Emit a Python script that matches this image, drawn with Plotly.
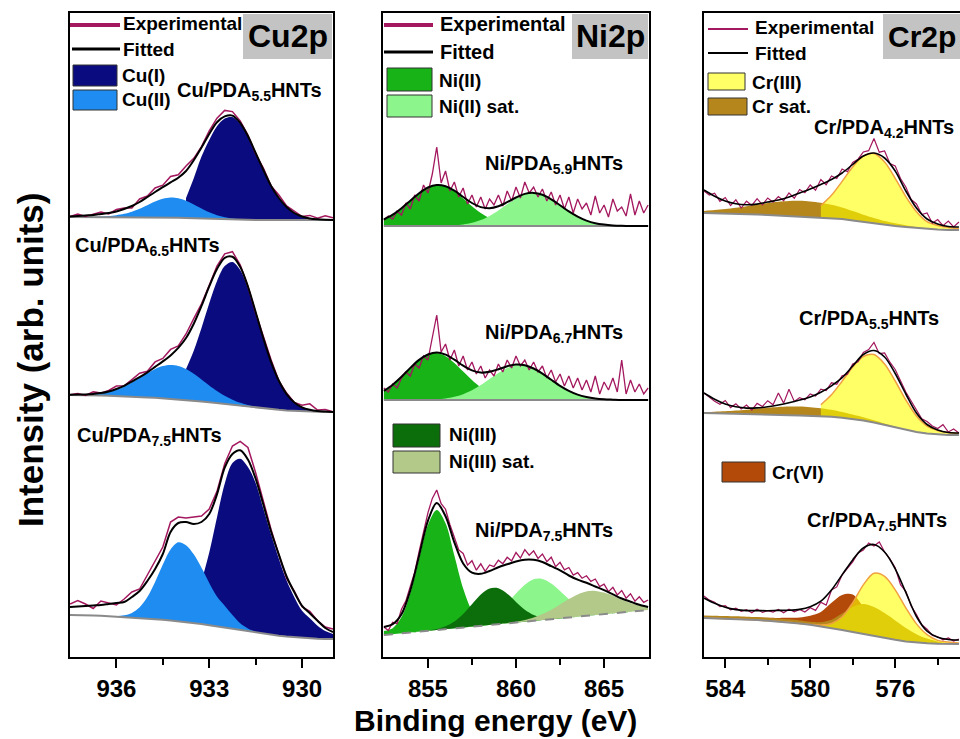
import plotly.graph_objects as go

W, H = 960, 739
FONT = "Arial, Liberation Sans, sans-serif"

# ---------------- energy grids (eV) ----------------
E_CU = [round(937.5 - 0.25 * i, 2) for i in range(35)]
E_NI = [round(852.5 + 0.5 * i, 2) for i in range(31)]
E_NI_EXP = [round(852.5 + 0.25 * i, 2) for i in range(61)]
E_CR = [round(585.0 - 0.5 * i, 2) for i in range(25)]
E_CR_EXP = [round(585.0 - 0.25 * i, 2) for i in range(49)]

# ---------------- Cu 2p ----------------
# stack offsets (arb. units); backgrounds relative to offset; components / fit = height above background
CU1_OFF = 437
CU1_BG = [3, 3, 3, 3, 3, 3, 3, 3, 3, 3, 3, 3, 2.8, 2.6, 2.3, 2, 1.7, 1.4, 1.1, 0.8, 0.6, 0.4, 0.2,
          0, 0, 0, 0, 0, 0, 0, 0, 0, 0, 0, 0]
CU1_CUI = [None] * 15 + [20, 40, 62, 79, 93, 101, 102.5, 96, 83, 67, 49, 34, 21.6, 12.7, 6.9, 3.5, 1.6, 0.7, 0.3, 0.1]
CU1_CUII = [0, 0, 0, 0.2, 0.5, 1.0, 1.8, 3.2, 5.3, 8.3, 11.8, 15.5, 18.5, 19.9, 19.5, 17.3, 13.9, 10.2, 6.7, 4.0,
            2.2, 1.1, 0.5, 0.2, 0, 0, 0, 0, 0, 0, 0, 0, 0, 0, 0]
CU1_FIT = [0.5, 1, 1.5, 2, 3, 4, 5.5, 8, 11, 15, 20, 25, 30, 35, 40, 47, 58, 71, 85, 97,
           103, 104, 97, 84, 67, 50, 34, 22, 13, 7, 3.5, 1.6, 0.7, 0.3, 0.1]
CU1_EXP = [0.5, 3, 0.5, 3, 5, 3, 7.5, 9, 9, 18, 21, 29, 32, 41, 43, 52, 60, 72, 88, 101,
           109, 108, 99, 85, 66, 52, 34, 25, 14, 9, 3.5, 4.6, 1.7, 4.3, 2.1]

CU2_OFF = 245
CU2_BG = [17, 17, 16.8, 16.6, 16.4, 16.2, 16, 15.7, 15.4, 15, 14.6, 14.2, 13.7, 13.2, 12.6, 12, 11.3, 10.5, 9.7, 8.8,
          7.9, 7, 6, 5.1, 4.3, 3.5, 2.8, 2.2, 1.6, 1.1, 0.7, 0.4, 0.2, 0.1, 0]
CU2_CUI = [None] * 15 + [31, 50, 73.5, 99, 122, 138, 143, 136, 118.6, 94.8, 69.6, 46.9, 28.9, 16.3, 8.5, 4.0, 1.8, 0.7, 0.3, 0.1]
CU2_CUII = [0.1, 0.3, 0.6, 1.3, 2.3, 4.0, 6.5, 9.9, 14.2, 19.2, 24.3, 28.9, 32.3, 33.9, 33.5, 31, 27, 22.1, 16.9, 12.2,
            8.3, 5.3, 3.2, 1.8, 0.9, 0.5, 0.2, 0.1, 0, 0, 0, 0, 0, 0, 0]
CU2_FIT = [0.3, 0.5, 0.8, 1.5, 2.5, 4.3, 7, 10.5, 15, 19.8, 25.1, 30.9, 36.9, 43.4, 51.5, 62, 77, 95.6, 115.9, 134.2,
           146.3, 148.3, 139.2, 120.4, 95.7, 70.1, 47.1, 29, 16.3, 8.5, 4, 1.8, 0.7, 0.3, 0.1]
CU2_EXP = [0.3, 1.5, -0.2, 3.5, 2.5, 5.3, 10, 10.5, 17, 23.8, 26.1, 35.9, 39.9, 49.4, 53.5, 66, 82, 97.6, 116.9, 137.2,
           150.3, 153.3, 141.2, 120.4, 94.7, 71.1, 49.1, 29, 17.3, 8.5, 6, 7.8, 1.7, 2.3, 0.1]

CU3_OFF = 18
CU3_BG = [24, 24, 23.8, 23.5, 23.2, 22.8, 22.4, 22, 21.5, 21, 20.5, 20, 19.3, 18.6, 17.8, 17, 16, 15, 13.8, 12.6,
          11.3, 10, 8.7, 7.5, 6.3, 5.2, 4.2, 3.3, 2.5, 1.8, 1.2, 0.7, 0.3, 0, 0]
CU3_CUI = [None] * 17 + [42.5, 72.6, 109, 144, 166, 171.5, 164.4, 149.7, 125, 100, 77, 56, 40, 27, 20, 13, 8, 5]
CU3_CUII = [0, 0, 0, 0, 0, 0.2, 0.5, 1.7, 4.6, 10.7, 21.4, 37, 55.2, 71, 79, 76.8, 68.7, 56.3, 42.3, 30,
            22, 14, 7, 3, 1, 0.3, 0, 0, 0, 0, 0, 0, 0, 0, 0]
CU3_FIT = [8, 8.5, 9.2, 10, 10.8, 12.2, 13.6, 15, 20.5, 27, 37.5, 50, 65.7, 88.4, 98.2, 100, 99, 102, 111.2, 132,
           160, 175, 180, 172, 154, 129, 103, 81, 60, 45, 32, 25, 18, 11, 7]
CU3_EXP = [11, 14.5, 11.2, 7, 14.8, 13.2, 11.6, 18, 25.5, 29, 43.5, 58, 72.7, 98.4, 104.2, 104, 106, 108, 116.2, 135,
           164, 183, 189, 184, 160, 132, 105, 81, 58, 46, 31, 27, 18, 12, 10]

# ---------------- Ni 2p ----------------
NI1_OFF = 431
NI1_BG = [0] * 31
NI1_NIII = [6.5, 11.3, 17.8, 25.3, 32.8, 38.5, 41, 39.6, 34.6, 27.5, 19.8, 12.9, 7.7, 4.1, 2, 0.9, 0.4, 0.1] + [0] * 13
NI1_NIIS = [0] * 7 + [0.2, 0.7, 1.5, 3.2, 6, 10.1, 15.6, 21.8, 27.6, 31.7, 33, 31.2, 26.7, 20.8, 14.6, 9.4, 5.4, 2.8,
                      1.4, 0.6, 0.2] + [0] * 3
NI1_FIT = [6.5, 11.3, 17.8, 25.3, 32.8, 38.5, 41, 39.8, 35.3, 29, 23, 18.9, 17.8, 19.7, 23.8, 28.5, 32.1, 33.1, 31.2,
           26.7, 20.8, 14.6, 9.4, 5.4, 2.8, 1.4, 0.6, 0.2, 0, 0, 0]
NI1_EXP = [6, 10, 7, 15, 11, 23, 17, 31, 25, 41, 33, 52, 79, 43, 55, 35, 44, 29, 38, 22,
           31, 19, 29, 17, 27, 21, 31, 20, 35, 25, 39, 28, 44, 33, 39, 29, 37, 25, 34, 21,
           31, 17, 29, 13, 27, 17, 23, 11, 30, 13, 21, 9, 27, 15, 19, 10, 32, 11, 25, 13, 21]

NI2_OFF = 257
NI2_BG = [0] * 31
NI2_NIII = [9.1, 15.3, 23.2, 32.1, 40.1, 45.5, 46.9, 43.8, 37.1, 28.5, 19.9, 12.5, 7.2, 3.7, 1.8, 0.8, 0.3] + [0] * 14
NI2_NIIS = [0] * 6 + [0.7, 1.6, 3.2, 5.8, 9.7, 14.9, 21, 27, 32, 34.7, 34.5, 31.5, 26.4, 20.2, 14.2, 9.2, 5.4, 3, 1.5,
                      0.7, 0.3] + [0] * 4
NI2_FIT = [9.1, 15.3, 23.2, 32.1, 40.1, 45.5, 47.6, 45.4, 40.3, 34.3, 29.6, 27.4, 28.2, 30.7, 33.8, 35.5, 34.8, 31.5,
           26.4, 20.2, 14.2, 9.2, 5.4, 3, 1.5, 0.7, 0.3, 0, 0, 0, 0]
NI2_EXP = [12, 8, 16, 12, 22, 28, 24, 36, 32, 44, 40, 62, 85, 48, 56, 40, 50, 34, 44, 30,
           38, 26, 34, 22, 30, 24, 36, 28, 40, 32, 44, 34, 40, 30, 38, 28, 34, 22, 30, 18,
           26, 14, 24, 12, 22, 10, 20, 8, 24, 6, 18, 10, 22, 8, 40, 6, 20, 8, 16, 6, 12]

NI3_OFF = 22
NI3_BG = [0, 0.8, 1.7, 2.5, 3.3, 4.2, 5, 5.8, 6.7, 7.5, 8.3, 9.2, 10, 10.8, 11.7, 12.5, 13.3, 14.2, 15, 15.8,
          16.7, 17.5, 18.3, 19.2, 20, 20.8, 21.7, 22.5, 23.3, 24.2, 25]
NI3_NIII = [4, 6, 16.2, 39, 72.8, 105.9, 120, 105.9, 72.8, 39, 16.2, 5.3, 1.3, 0.2] + [0] * 17
NI3_NIIS = [0] * 9 + [0.5, 1.3, 3.1, 6.5, 12.2, 20.1, 29.1, 37, 41.6, 41, 35.7, 27.3, 18.4, 10.9, 5.7, 2.6, 1.1,
                      0.4] + [0] * 4
NI3_NIIII = [0, 0, 0, 0, 0, 0.3, 1, 3, 6.9, 13.6, 22.4, 31.2, 36.5, 35.9, 29.6, 20.6, 12, 5.9, 2.4, 0.8, 0.2] + [0] * 10
NI3_NIIIS = [0] * 14 + [0.3, 0.8, 1.7, 3.3, 5.9, 9.5, 13.9, 18.5, 22.3, 24.3, 24.1, 21.6, 17.6, 13, 8.7, 5.3, 2.9]
NI3_FIT = [8, 10, 19, 42, 76, 110, 127, 113, 86, 64, 54, 52, 54, 57, 59, 61, 62, 61, 58, 53,
           48, 42, 37, 33, 28.5, 24, 19, 14, 10, 6, 3]
NI3_EXP = [8, 4.4, 12.8, 11.3, 25.7, 34.1, 48.5, 62.9, 83.3, 101.8, 122.2, 136.6, 145, 131.4, 125.8, 110.3, 98.7,
           85.1, 81.5, 69.9, 74.3, 64.8, 71.2, 63.6, 70, 68.4, 74.8, 71.3, 77.7, 74.1, 82.5, 76.9, 85.3, 79.8,
           84.2, 76.6, 81, 73.4, 77.8, 68.3, 72.7, 65.1, 67.5, 59.9, 62.3, 56.8, 59.2, 53.6, 56, 48.4, 50.8,
           43.3, 47.7, 40.1, 44.5, 36.9, 41.3, 33.8, 38.2, 32.6, 35]

# ---------------- Cr 2p ----------------
CR1_OFF = 427
CR1_BG = [17, 16.8, 16.5, 16.2, 15.8, 15.4, 15, 14.5, 14, 13.5, 13, 12.5, 12, 11, 9.5, 8, 6.5, 5, 4, 3,
          2, 1, 0.5, 0, 0]
CR1_SAT = [2, 3.1, 4.4, 6.1, 8, 10.1, 12.1, 13.8, 15.1, 15.7, 15.5, 14.7, 13.2, 11.4, 9.4, 7.3, 5.5, 3.9, 2.7, 1.7,
           1.1, 0.6, 0.3, 0.2, 0.1]
CR1_CRIII = [None] * 11 + [11.9, 22.7, 37.6, 53.6, 65.9, 70, 63, 47.7, 30.4, 16.3, 7.3, 4, 2.5, 1.5]
CR1_FIT = [23, 17, 12.5, 10, 9.5, 10.5, 13, 15.5, 19, 23.5, 28, 33, 38.5, 46, 56, 66, 70.5, 67, 55, 36,
           20, 10, 5.5, 3.5, 3]
CR1_EXP = [39, 34.9, 36.8, 28.7, 32.5, 24.4, 30.2, 22, 28.8, 24.6, 31.4, 25.2, 32, 27.8, 33.5, 29.3, 37, 31.8,
           40.5, 37.3, 45, 39.8, 50.5, 45.3, 54, 51.5, 61, 58.3, 67.5, 70.8, 78, 79.3, 91.5, 77.8, 79, 66.5,
           64, 51.5, 43, 30.5, 26, 15.5, 17, 6.8, 10.5, 4.3, 9, 3, 8]

CR2_OFF = 222
CR2_BG = [22, 21.8, 21.5, 21.2, 20.9, 20.6, 20.3, 20, 19.7, 19.4, 19.1, 18.8, 18.2, 17.3, 16, 14.5, 12.5, 10, 7.5, 5,
          3, 1.5, 0.5, 0, 0]
CR2_SAT = [0.9, 1.5, 2.2, 3.2, 4.4, 5.7, 7, 8, 8.7, 9, 8.7, 8, 7, 5.7, 4.4, 3.2, 2.2, 1.5, 0.9, 0.5,
           0.3, 0.1, 0, 0, 0]
CR2_CRIII = [None] * 11 + [11.5, 22, 36.5, 52, 64, 68, 61, 46.5, 30, 16, 7.5, 4, 2.5, 1.5]
CR2_FIT = [20, 14, 9.5, 7, 6, 6.5, 8, 10, 12.5, 15.5, 19, 24, 31, 40, 53, 66, 72, 68, 54, 36,
           19, 9, 4.5, 2.5, 2]
CR2_EXP = [42, 37.9, 33.8, 30.7, 34.5, 27.4, 31.2, 26.1, 29.9, 24.8, 31.6, 28.5, 34.3, 30.2, 42, 31.9, 45.7, 33.6,
           37.4, 35.3, 41.1, 39, 45.8, 44.5, 52.2, 50.8, 59.3, 60.7, 71, 73.3, 82.5, 85.5, 92.5, 81.3, 82, 72.8,
           65.5, 54.3, 43, 34, 25, 16.3, 13.5, 9, 6.5, 10.3, 3, 6, 2]

CR3_OFF = 13
CR3_BG = [26, 25.7, 25.3, 24.9, 24.4, 23.9, 23.3, 22.6, 21.7, 20.6, 19.3, 17.8, 16, 14.1, 12.1, 10, 8, 6, 4.2, 2.6,
          1.5, 0.8, 0.3, 0, 0]
CR3_CRVI = [1, 1.1, 1.3, 1.6, 2, 2.5, 3, 3.5, 4.5, 6, 9, 14.3, 25.3, 35, 37.5, 27, 13, 5, 1.5, 0.4,
            0.1, 0, 0, 0, 0]
CR3_SAT = [2.5, 2.6, 2.7, 2.8, 2.9, 3, 3, 3, 3, 3, 3, 4, 8.3, 16.4, 25, 29.9, 29, 25, 19.4, 13.4,
           8.3, 4.6, 2.3, 1, 0.4]
CR3_CRIII = [0] * 10 + [0.2, 1.2, 4.5, 13.1, 29.1, 49.1, 62.7, 61.7, 50, 33.5, 18.6, 8.6, 3.3, 2, 1]
CR3_FIT = [20, 15, 11.5, 9.5, 9, 9.5, 10, 11, 12, 14, 18, 25, 38, 55, 72, 86, 91.5, 86, 71, 49,
           26, 12, 6.5, 4.5, 4]
CR3_EXP = [48, 43.9, 41.7, 37.5, 38.3, 34.1, 35.9, 32.7, 34.4, 31.2, 34.9, 31.6, 33.3, 32, 34.6, 31.2, 34.7, 32.2,
           34.6, 32, 36.3, 33.6, 41.8, 38.9, 54, 57.1, 69.1, 75.1, 82.1, 91.1, 94, 101, 98, 102, 92, 85.1,
           76.2, 59.4, 52.6, 38.1, 29.5, 19.2, 14.8, 8.6, 7.3, 4.2, 6, 3, 5]

# tick labels
CU_TICKS = [936, 933, 930]
CU_MINOR = [934.5, 931.5]
NI_TICKS = [855, 860, 865]
NI_MINOR = [857.5, 862.5]
CR_TICKS = [584, 580, 576]
CR_MINOR = [582, 578, 574]

# ---------------- colours ----------------
MAROON = "#a3185e"
GRAY = "#8a8a8a"
NAVY = "#0b0b80"
LBLUE = "#1e8cf0"
GREEN = "#17b317"
LGREEN = "#8cf58c"
DGREEN = "#0b6e0b"
OLIVE = "#b3c98a"
YEL = "rgba(255,255,0,0.6)"
YEL_BOX = "#ffff66"
ORANGE = "#f0a040"
BROWN = "#b5861c"
CRVI = "#b44a0a"

fig = go.Figure()


def spectrum(ax, E, off, bg, comps, fit, Ex, ex, ex_on_bg, base_dash="solid", exp_w=1.5, fit_w=2.0):
    xa, ya = ("x", "y") if ax == 1 else (f"x{ax}", f"y{ax}")
    assert len(bg) == len(E) and len(fit) == len(E) and len(ex) == len(Ex)
    base = [off + b for b in bg]
    for h, fillc, linec, lw in comps:
        assert len(h) == len(E)
        keep = [i for i, v in enumerate(h) if v is not None]
        xs = [E[i] for i in keep]
        fig.add_trace(go.Scatter(x=xs, y=[base[i] for i in keep], mode="lines",
                                 line=dict(width=0, color="rgba(0,0,0,0)"),
                                 xaxis=xa, yaxis=ya, hoverinfo="skip", showlegend=False))
        fig.add_trace(go.Scatter(x=xs, y=[base[i] + h[i] for i in keep], mode="lines", fill="tonexty",
                                 fillcolor=fillc,
                                 line=dict(width=lw, color=linec, shape="spline", smoothing=0.9),
                                 xaxis=xa, yaxis=ya, hoverinfo="skip", showlegend=False))
    fig.add_trace(go.Scatter(x=E, y=base, mode="lines", line=dict(color=GRAY, width=2, dash=base_dash),
                             xaxis=xa, yaxis=ya, hoverinfo="skip", showlegend=False))
    if ex_on_bg:
        ey = [base[i] + ex[i] for i in range(len(ex))]
    else:
        ey = [off + v for v in ex]
    fig.add_trace(go.Scatter(x=Ex, y=ey, mode="lines", line=dict(color=MAROON, width=exp_w),
                             xaxis=xa, yaxis=ya, hoverinfo="skip", showlegend=False))
    fig.add_trace(go.Scatter(x=E, y=[base[i] + fit[i] for i in range(len(E))], mode="lines",
                             line=dict(color="black", width=fit_w, shape="spline", smoothing=0.9),
                             xaxis=xa, yaxis=ya, hoverinfo="skip", showlegend=False))


# Cu (Cu(I) first, Cu(II) drawn over it)
spectrum(1, E_CU, CU1_OFF, CU1_BG, [(CU1_CUI, NAVY, NAVY, 0), (CU1_CUII, LBLUE, LBLUE, 0)], CU1_FIT, E_CU, CU1_EXP, True)
spectrum(1, E_CU, CU2_OFF, CU2_BG, [(CU2_CUI, NAVY, NAVY, 0), (CU2_CUII, LBLUE, LBLUE, 0)], CU2_FIT, E_CU, CU2_EXP, True)
spectrum(1, E_CU, CU3_OFF, CU3_BG, [(CU3_CUI, NAVY, NAVY, 0), (CU3_CUII, LBLUE, LBLUE, 0)], CU3_FIT, E_CU, CU3_EXP, True)

# Ni
spectrum(2, E_NI, NI1_OFF, NI1_BG, [(NI1_NIII, GREEN, GREEN, 0), (NI1_NIIS, LGREEN, LGREEN, 0)], NI1_FIT,
         E_NI_EXP, NI1_EXP, False, exp_w=1.3)
spectrum(2, E_NI, NI2_OFF, NI2_BG, [(NI2_NIII, GREEN, GREEN, 0), (NI2_NIIS, LGREEN, LGREEN, 0)], NI2_FIT,
         E_NI_EXP, NI2_EXP, False, exp_w=1.3)
spectrum(2, E_NI, NI3_OFF, NI3_BG, [(NI3_NIII, GREEN, GREEN, 0), (NI3_NIIS, LGREEN, LGREEN, 0),
                                    (NI3_NIIII, DGREEN, DGREEN, 0), (NI3_NIIIS, OLIVE, OLIVE, 0)], NI3_FIT,
         E_NI_EXP, NI3_EXP, False, base_dash="dash", exp_w=1.3)

# Cr
spectrum(3, E_CR, CR1_OFF, CR1_BG, [(CR1_SAT, BROWN, BROWN, 0), (CR1_CRIII, YEL, ORANGE, 1.5)], CR1_FIT,
         E_CR_EXP, CR1_EXP, False, exp_w=1.2, fit_w=1.6)
spectrum(3, E_CR, CR2_OFF, CR2_BG, [(CR2_SAT, BROWN, BROWN, 0), (CR2_CRIII, YEL, ORANGE, 1.5)], CR2_FIT,
         E_CR_EXP, CR2_EXP, False, exp_w=1.2, fit_w=1.6)
spectrum(3, E_CR, CR3_OFF, CR3_BG, [(CR3_CRVI, CRVI, CRVI, 0), (CR3_SAT, BROWN, BROWN, 0),
                                    (CR3_CRIII, YEL, ORANGE, 1.5)], CR3_FIT,
         E_CR_EXP, CR3_EXP, False, exp_w=1.2, fit_w=1.6)

# ---------------- axes ----------------
YDOM = [1 - 657 / H, 1 - 13 / H]
tickfont = dict(family=FONT, size=24, color="black", weight="bold")


def xax(dom, rng, ticks, minor):
    return dict(domain=dom, range=rng, showline=True, linewidth=2, linecolor="black", mirror=True,
                ticks="outside", ticklen=9, tickwidth=2, tickcolor="black", tickmode="array",
                tickvals=ticks, ticktext=[str(t) for t in ticks], tickfont=tickfont,
                minor=dict(tickmode="array", tickvals=minor, ticks="outside", ticklen=6, tickwidth=2,
                           tickcolor="black"),
                showgrid=False, zeroline=False)


def yax(anchor, mirror):
    return dict(domain=YDOM, range=[0, 644], showline=True, linewidth=2, linecolor="black", mirror=mirror,
                ticks="", showticklabels=False, showgrid=False, zeroline=False, anchor=anchor)


layout = dict(
    width=W, height=H, margin=dict(l=0, r=0, t=0, b=0),
    plot_bgcolor="white", paper_bgcolor="white", showlegend=False,
    xaxis=dict(**xax([70 / W, 333 / W], [937.5, 929.0], CU_TICKS, CU_MINOR), anchor="y"),
    xaxis2=dict(**xax([383 / W, 649 / W], [852.45, 867.55], NI_TICKS, NI_MINOR), anchor="y2"),
    xaxis3=dict(**xax([704 / W, 1.0], [585.0, 572.95], CR_TICKS, CR_MINOR), anchor="y3"),
    yaxis=yax("x", True),
    yaxis2=yax("x2", True),
    yaxis3=yax("x3", False),
)
fig.update_layout(**layout)


# ---------------- legends, labels, titles (pixel placement) ----------------
def X(px):
    return px / W


def Y(py):
    return 1 - py / H


def txt(s, px, py, size, anchor="left", angle=0):
    return dict(text=s, x=X(px), y=Y(py), xref="paper", yref="paper", xanchor=anchor, yanchor="middle",
                showarrow=False, textangle=angle,
                font=dict(family=FONT, size=size, color="black", weight="bold"))


def hline(x0, x1, y, color, w):
    return dict(type="line", xref="paper", yref="paper", x0=X(x0), x1=X(x1), y0=Y(y), y1=Y(y),
                line=dict(color=color, width=w))


def box(x0, y0, x1, y1, fill, lw=1):
    return dict(type="rect", xref="paper", yref="paper", x0=X(x0), x1=X(x1), y0=Y(y1), y1=Y(y0),
                fillcolor=fill, line=dict(color="#333333", width=lw))


def graybox(x0, x1):
    return dict(type="rect", xref="paper", yref="paper", x0=X(x0), x1=X(x1), y0=Y(59), y1=Y(14),
                fillcolor="#c3c3c3", line=dict(width=0), layer="above")


shapes = [
    graybox(243, 332), graybox(572, 648), graybox(883, 960),
    # Cu legend
    hline(70, 120, 25, MAROON, 4), hline(72, 120, 49, "black", 3),
    box(73, 65, 117, 86, NAVY), box(73, 90, 117, 110, LBLUE),
    # Ni legend
    hline(384, 433, 25, MAROON, 4), hline(384, 433, 52, "black", 3),
    box(387, 68, 432, 91, GREEN), box(387, 95, 432, 117, LGREEN),
    box(393, 424, 440, 447, DGREEN), box(393, 451, 440, 473, OLIVE),
    # Cr legend
    hline(708, 748, 29, MAROON, 2), hline(708, 748, 53, "black", 2),
    box(708, 73, 745, 90, YEL_BOX), box(708, 98, 747, 115, BROWN),
    box(722, 462, 765, 482, CRVI),
]

LEG = 19
LAB = 20
annotations = [
    txt("Cu2p", 288, 36, 32, "center"),
    txt("Ni2p", 610, 36, 32, "center"),
    txt("Cr2p", 958, 36, 30, "right"),
    txt("Experimental", 121, 24, LEG), txt("Fitted", 121, 49, LEG),
    txt("Cu(I)", 120, 75, LEG), txt("Cu(II)", 120, 99, LEG),
    txt("Cu/PDA<sub>5.5</sub>HNTs", 175, 91, LAB),
    txt("Cu/PDA<sub>6.5</sub>HNTs", 73, 246, LAB),
    txt("Cu/PDA<sub>7.5</sub>HNTs", 75, 436, LAB),
    txt("Experimental", 438, 24, 20), txt("Fitted", 438, 52, 20),
    txt("Ni(II)", 437, 80, LEG), txt("Ni(II) sat.", 437, 107, LEG),
    txt("Ni/PDA<sub>5.9</sub>HNTs", 483, 164, LAB),
    txt("Ni/PDA<sub>6.7</sub>HNTs", 483, 333, LAB),
    txt("Ni(III)", 447, 435, LEG), txt("Ni(III) sat.", 447, 462, LEG),
    txt("Ni/PDA<sub>7.5</sub>HNTs", 473, 531, LAB),
    txt("Experimental", 753, 28, LEG), txt("Fitted", 753, 53, LEG),
    txt("Cr(III)", 750, 82, LEG), txt("Cr sat.", 750, 107, LEG),
    txt("Cr/PDA<sub>4.2</sub>HNTs", 812, 129, LAB),
    txt("Cr/PDA<sub>5.5</sub>HNTs", 797, 319, LAB),
    txt("Cr(VI)", 770, 472, LEG),
    txt("Cr/PDA<sub>7.5</sub>HNTs", 805, 521, LAB),
    txt("Binding energy (eV)", 495, 720, 30, "center"),
    txt("Intensity (arb. units)", 30, 360, 35, "center", angle=-90),
]
fig.update_layout(shapes=shapes, annotations=annotations)

fig.write_html("out.html")
